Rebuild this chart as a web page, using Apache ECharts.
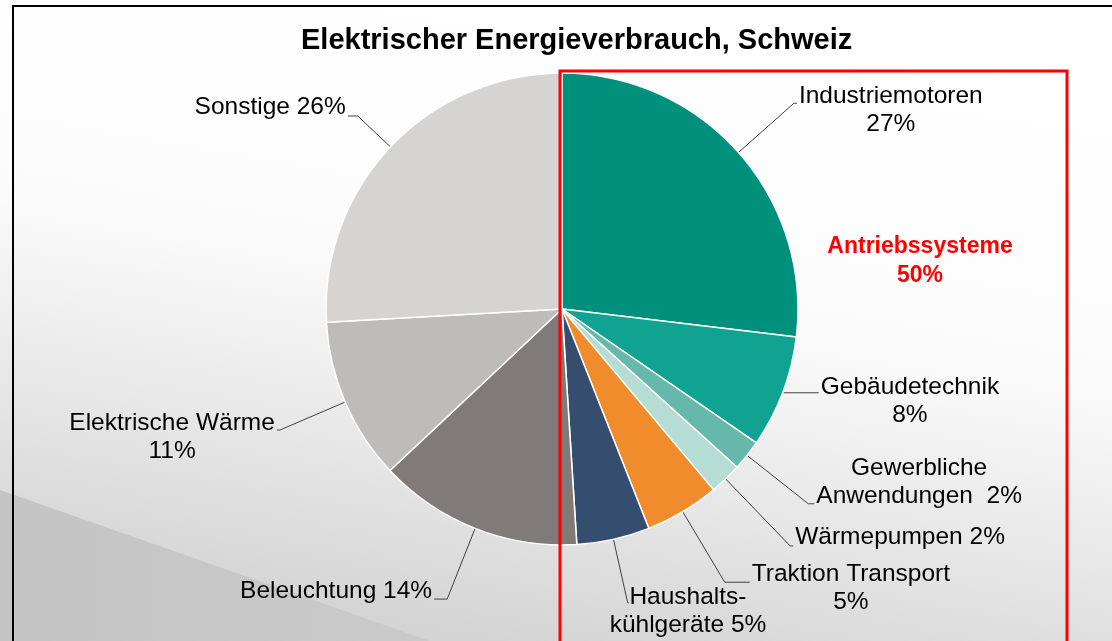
<!DOCTYPE html>
<html>
<head>
<meta charset="utf-8">
<title>Elektrischer Energieverbrauch, Schweiz</title>
<script src="https://cdn.jsdelivr.net/npm/echarts@6/dist/echarts.min.js"></script>
<style>
  html, body { margin: 0; padding: 0; background: #fff; }
  #chart { width: 1112px; height: 641px; }
</style>
</head>
<body>
<div id="chart"></div>
<script>
// values, clockwise from 12 o'clock (percent of total)
var categories = ['Industriemotoren', 'Gebäudetechnik', 'Gewerbliche Anwendungen', 'Wärmepumpen',
    'Traktion Transport', 'Haushaltskühlgeräte', 'Beleuchtung', 'Elektrische Wärme', 'Sonstige'];
var shares = [26.9, 7.7, 2.1, 2.2, 5.1, 5.0, 14.0, 11.1, 25.9];
// label text, {p} is replaced by the rounded percentage
var labelTexts = [
    'Industriemotoren\n{p}',
    'Gebäudetechnik\n{p}',
    'Gewerbliche\nAnwendungen  {p}',
    'Wärmepumpen {p}',
    'Traktion Transport\n{p}',
    'Haushalts-\nkühlgeräte {p}',
    'Beleuchtung {p}',
    'Elektrische Wärme\n{p}',
    'Sonstige {p}'
];
var sliceColors = ['#00907c', '#10a392', '#66b8aa', '#b5ddd6', '#f08c2b',
    '#354e6f', '#807b78', '#bebcba', '#d5d4d3'];

var titleText = 'Elektrischer Energieverbrauch, Schweiz';
var groupText = 'Antriebssysteme\n50%';

// leader line lengths and label offsets (layout only)
var labelPlacement = [
    { len: 74, len2: 3, pad: [14, 0, 0, 0] },
    { len: 1, len2: 35, pad: [16, 0, 0, 0] },
    { len: 78, len2: 6, pad: [0, 0, 43, 0] },
    { len: 93, len2: 3, pad: [0, 0, 18, 0] },
    { len: 82, len2: 25, pad: [13, 0, 0, 0] },
    { len: 65, len2: 1, pad: [16, 0, 0, 0], dist: -19 },
    { len: 76, len2: 13, pad: [0, 0, 16, 0] },
    { len: 71, len2: 3, pad: [14, 0, 0, 0] },
    { len: 45, len2: 10, pad: [0, 0, 18, 0] }
];

var FONT = 'Liberation Sans, Arial, sans-serif';

var pieData = categories.map(function (name, i) {
    var p = labelPlacement[i];
    var item = {
        name: name,
        value: shares[i],
        itemStyle: { color: sliceColors[i] },
        labelLine: { length: p.len, length2: p.len2 },
        label: { padding: p.pad }
    };
    if (p.dist !== undefined) item.label.distanceToLabelLine = p.dist;
    return item;
});

var myChart = echarts.init(document.getElementById('chart'), null, { renderer: 'canvas' });

var opt = {
    animation: false,
    title: {
        text: titleText,
        left: 296,
        top: 21,
        textStyle: { fontSize: 29, fontWeight: 'bold', fontFamily: FONT, color: '#000' }
    },
    graphic: [
        {   // page background
            type: 'rect', z: -100, silent: true,
            shape: { x: 0, y: 0, width: 1112, height: 641 },
            style: {
                fill: {
                    type: 'linear', x: 0.55, y: 0, x2: 0.45, y2: 1,
                    colorStops: [
                        { offset: 0, color: '#ffffff' },
                        { offset: 0.45, color: '#fbfbfb' },
                        { offset: 0.75, color: '#e6e6e6' },
                        { offset: 1, color: '#d4d4d4' }
                    ]
                }
            }
        },
        {   // darker diagonal band bottom left
            type: 'polygon', z: -99, silent: true,
            shape: { points: [[0, 490], [430, 641], [0, 641]] },
            style: {
                fill: {
                    type: 'linear', x: 0, y: 0, x2: 1, y2: 0,
                    colorStops: [
                        { offset: 0, color: '#c4c4c4' },
                        { offset: 1, color: '#cacaca' }
                    ]
                }
            }
        },
        {   // frame
            type: 'polyline', z: 50, silent: true,
            shape: { points: [[13, 641], [13, 6], [1112, 6]] },
            style: { stroke: '#000', lineWidth: 2, fill: null }
        },
        {   // red group box
            type: 'rect', z: 100, silent: true,
            shape: { x: 560, y: 71, width: 507, height: 620 },
            style: { stroke: '#ff0000', lineWidth: 3, fill: null }
        },
        {
            type: 'text', z: 100, silent: true,
            x: 920, y: 261,
            style: {
                text: groupText,
                fill: '#ff0000',
                font: 'bold 23px ' + FONT,
                align: 'center',
                verticalAlign: 'middle',
                lineHeight: 29
            }
        }
    ],
    series: [{
        type: 'pie',
        center: [562, 309],
        radius: 236,
        startAngle: 90,
        clockwise: true,
        avoidLabelOverlap: false,
        labelLayout: { hideOverlap: false },
        emphasis: { disabled: true },
        itemStyle: { borderColor: '#ffffff', borderWidth: 1.5 },
        label: {
            show: true,
            position: 'outside',
            alignTo: 'none',
            distanceToLabelLine: 2,
            color: '#000',
            fontSize: 24.5,
            fontFamily: FONT,
            lineHeight: 28,
            formatter: function (params) {
                var pct = Math.round(params.percent) + '%';
                return labelTexts[params.dataIndex].replace('{p}', pct)
                    .split('\n').map(function (s) { return '{c|' + s + '}'; }).join('\n');
            },
            rich: {
                c: { align: 'center', fontSize: 24.5, fontFamily: FONT, color: '#000', lineHeight: 28 }
            }
        },
        labelLine: {
            show: true,
            smooth: false,
            lineStyle: { color: '#404040', width: 1 }
        },
        data: pieData
    }]
};

myChart.setOption(opt);
</script>
</body>
</html>
